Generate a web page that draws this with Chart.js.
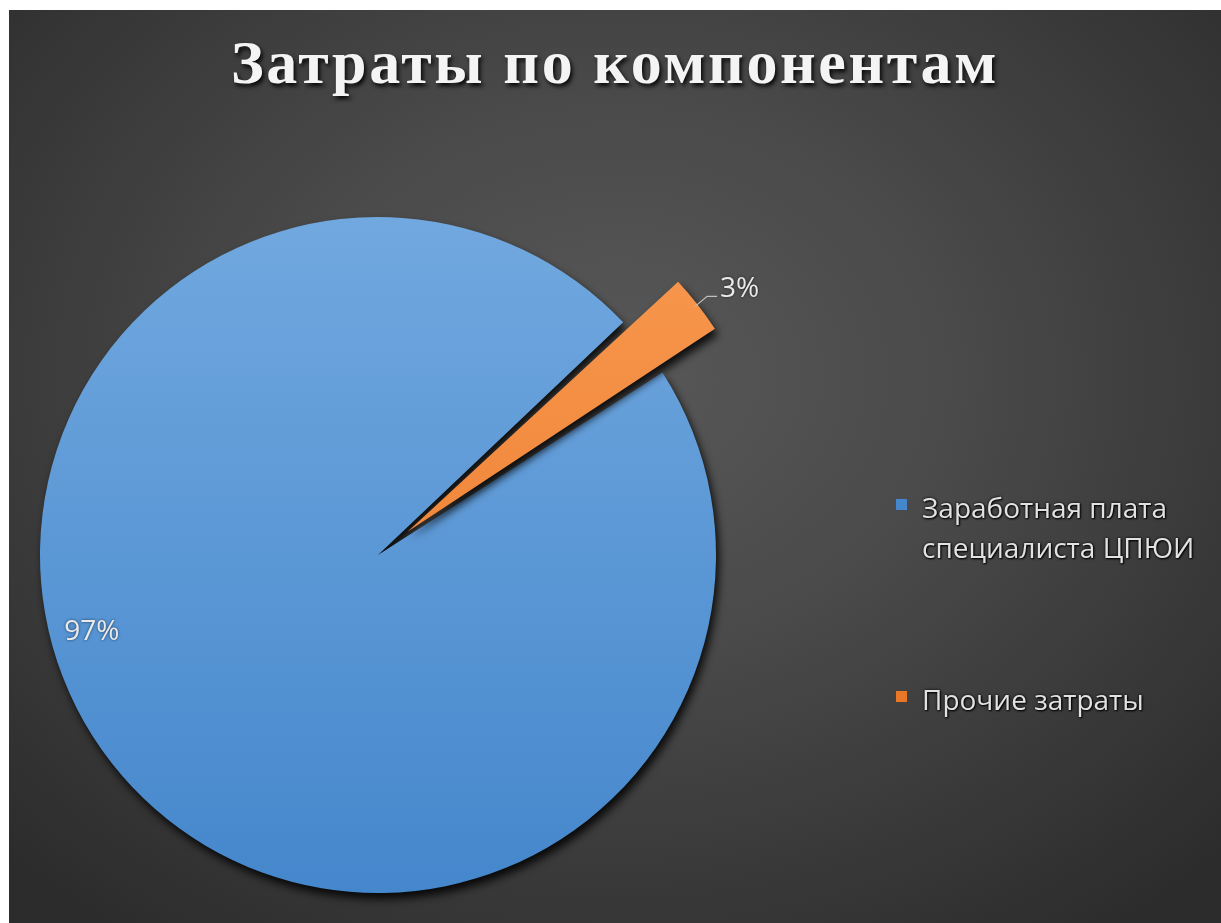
<!DOCTYPE html>
<html lang="ru">
<head>
<meta charset="utf-8">
<script src="https://cdn.jsdelivr.net/npm/chart.js@4.4.0/dist/chart.umd.min.js"></script>
<style>
  html, body { margin: 0; padding: 0; background: #fff; }
  body { width: 1221px; height: 923px; overflow: hidden; position: relative; }
  #frame {
    position: absolute; left: 9px; top: 10px; width: 1212px; height: 913px; overflow: hidden;
    background: radial-gradient(ellipse 70% 75% at 50% 40%, #585858 0%, #4a4a4a 40%, #2c2c2c 100%);
  }
  #title {
    position: absolute; left: 0; top: 21px; width: 1212px; text-align: center;
    font: bold 62px/62px "Liberation Serif", "DejaVu Serif", serif; letter-spacing: 2.6px;
    color: #f4f4f4; text-shadow: 2px 3px 4px rgba(0, 0, 0, 0.9);
  }
  #pie { position: absolute; left: 0; top: 0; }
  .leg {
    position: absolute; left: 887px; font: 28px/40px "Open Sans", sans-serif; color: #e2e2e2;
    text-shadow: 0 0 3px #000, 1px 1px 2px #000; white-space: nowrap;
  }
  .leg i { position: absolute; left: 0; top: 12px; width: 11px; height: 11px; }
  .leg span { display: block; margin-left: 26px; }
</style>
</head>
<body>
<div id="frame">
  <div id="title">Затраты по компонентам</div>
  <canvas id="pie" width="1212" height="913"></canvas>
</div>
<script>
const categories = ['Заработная плата специалиста ЦПЮИ', 'Прочие затраты'];
const legendLines = [['Заработная плата', 'специалиста ЦПЮИ'], ['Прочие затраты']];
const shares = [97, 3];
const shareLabels = ['97%', '3%'];
const topColors = ['#71a8df', '#f89a50'];
const bottomColors = ['#4587cc', '#ea7628'];
const legendTops = [477, 669];

// legend in html, right side
const frame = document.getElementById('frame');
categories.forEach((name, i) => {
    const item = document.createElement('div');
    item.className = 'leg';
    item.style.top = legendTops[i] + 'px';
    item.title = name;
    item.innerHTML = '<i style="background:' + bottomColors[i] + '"></i><span>' + legendLines[i].join('<br>') + '</span>';
    frame.appendChild(item);
});

const pieRadius = 338;

function sliceFill(context) {
    const i = context.dataIndex;
    const area = context.chart.chartArea;
    if (!area) return bottomColors[i];
    const cy = (area.top + area.bottom) / 2;
    const g = context.chart.ctx.createLinearGradient(0, cy - pieRadius, 0, cy + pieRadius);
    g.addColorStop(0, topColors[i]);
    g.addColorStop(1, bottomColors[i]);
    return g;
}

const shadowAndLabels = {
    id: 'shadowAndLabels',
    beforeDatasetsDraw(chart) {
        const c = chart.ctx;
        c.save();
        c.shadowColor = 'rgba(0,0,0,0.85)';
        c.shadowBlur = 9;
        c.shadowOffsetX = 3;
        c.shadowOffsetY = 6;
    },
    afterDatasetsDraw(chart) {
        const c = chart.ctx;
        c.restore();
        const meta = chart.getDatasetMeta(0);
        c.save();
        c.font = '28px "Open Sans", sans-serif';
        c.fillStyle = '#eaeaea';
        c.shadowColor = 'rgba(0,0,0,0.6)';
        c.shadowBlur = 3;
        meta.data.forEach((arc, i) => {
            const p = arc.getProps(['x', 'y', 'startAngle', 'endAngle', 'outerRadius'], true);
            const span = p.endAngle - p.startAngle;
            if (i === 0) {
                // big slice: label inside, near the edge
                const a = p.startAngle + span * 0.566;
                const r = p.outerRadius * 0.877;
                c.textAlign = 'center';
                c.textBaseline = 'middle';
                c.fillText(shareLabels[i], p.x + Math.cos(a) * r, p.y + Math.sin(a) * r);
            } else {
                // exploded slice: label outside with a leader line
                const a = (p.startAngle + p.endAngle) / 2;
                const off = (arc.options.offset || 0) / 4;
                const fix = 1 - Math.sin(Math.min(Math.PI, span));
                const r = p.outerRadius + off + off * fix - 3;
                const x0 = p.x + Math.cos(a) * r, y0 = p.y + Math.sin(a) * r;
                const x1 = x0 + 12, y1 = y0 - 10, x2 = x1 + 10;
                c.shadowBlur = 0;
                c.strokeStyle = '#bfbfbf';
                c.lineWidth = 1.2;
                c.beginPath();
                c.moveTo(x0, y0);
                c.lineTo(x1, y1);
                c.lineTo(x2, y1);
                c.stroke();
                c.shadowBlur = 3;
                c.textAlign = 'left';
                c.textBaseline = 'middle';
                c.fillText(shareLabels[i], x2 + 3, y1 - 7);
            }
        });
        c.restore();
    }
};

new Chart(document.getElementById('pie'), {
    type: 'pie',
    data: {
        labels: categories,
        datasets: [{
            data: shares,
            backgroundColor: sliceFill,
            borderWidth: 0,
            offset: [0, 150],
            radius: pieRadius,
            rotation: 57.3
        }]
    },
    options: {
        responsive: false,
        animation: false,
        events: [],
        layout: { padding: { left: 0, right: 474, top: 177, bottom: 0 } },
        plugins: {
            legend: { display: false },
            tooltip: { enabled: false },
            title: { display: false }
        }
    },
    plugins: [shadowAndLabels]
});
</script>
</body>
</html>
